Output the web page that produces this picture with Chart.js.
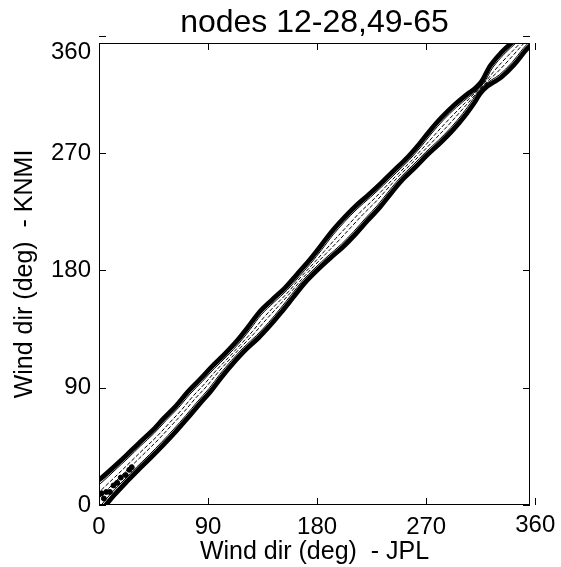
<!DOCTYPE html>
<html>
<head>
<meta charset="utf-8">
<script src="https://cdn.jsdelivr.net/npm/chart.js@4.4.1/dist/chart.umd.min.js"></script>
<style>
  html, body { margin: 0; padding: 0; background: #fff; }
  #wrap { width: 561px; height: 567px; }
</style>
</head>
<body>
<div id="wrap"><canvas id="chart" width="561" height="567"></canvas></div>
<script>
const titleText = "nodes 12-28,49-65";
const xLabel = "Wind dir (deg)  - JPL";
const yLabel = "Wind dir (deg)  - KNMI";
const tickValues = [0, 90, 180, 270, 360];
const xMax = 355.7;
const yMax = 354.3;

// position along the diagonal (deg) and KNMI-JPL offset of the band centre
const alongDeg = [-10, 0, 10, 20, 30, 40, 50, 60, 70, 80, 90, 100, 110, 120, 130, 140, 150, 160, 170, 180,
  190, 200, 210, 220, 230, 240, 250, 260, 270, 280, 290, 300, 310, 315, 320, 325, 330, 340, 350, 365];
const knmiMinusJpl = [9, 8, 7, 6, 5, 4, 3, 3, 3, 4, 4, 5, 5, 5, 5, 6, 6, 6, 7, 7,
  7, 7, 7, 7, 6, 6, 6, 5, 5, 5, 5, 5, 5, 5, 5, 5, 5, 5, 5, 5];

// half widths of the contour levels (deg, across the diagonal)
const outerHalfWidth = [17, 15, 13, 12, 11.5, 11.5, 11, 11, 10.5, 10.5, 10, 9, 8, 8, 9.5, 10.5, 9.5, 8, 7.5, 8,
  9.5, 11.5, 12, 11.5, 10.5, 9, 8, 8, 8.5, 10, 10.5, 9.5, 7, 5, 5, 7.5, 10, 11, 9.5, 8.5];
const edgeHalfWidth = [15, 13, 11, 10, 9.5, 9.5, 9, 9, 8.5, 8.5, 8, 7, 6, 6, 7.5, 8.5, 7.5, 6, 5.5, 6,
  7.5, 9.5, 10, 9.5, 8.5, 7, 6, 6, 6.5, 8, 8.5, 7.5, 5, 3, 3, 5.5, 8, 9, 7.5, 6.5];
const innerHalfWidth = [12, 10, 8, 7.5, 7, 7, 6.5, 6.5, 6, 6, 5.5, 4.5, 3.5, 3.5, 5, 6, 5, 3.5, 3, 3.5,
  5, 7, 7.5, 7, 6, 4.5, 3.5, 3.5, 4, 5.5, 6, 5, 2.5, 1, 1, 3, 5.5, 6.5, 5, 4];
const coreHalfWidth = [3, 2.5, 2.2, 2, 2, 2, 1.8, 1.8, 1.8, 1.8, 1.8, 1.5, 1.2, 1.2, 1.5, 1.8, 1.6, 1.2, 1.2, 1.2,
  1.6, 2, 2, 2, 1.8, 1.5, 1.2, 1.2, 1.4, 1.8, 2, 1.6, 1, 0.6, 0.6, 1, 1.8, 2, 1.6, 1.4];

// dense peaks near the origin
const blobJpl = [2, 4, 6, 9, 12, 15, 18, 22, 25, 27];
const blobKnmi = [9, 5, 10, 10, 15, 17, 21, 23, 27, 29];

function edge(widths, sign) {
  return alongDeg.map((u, i) => {
    const v = knmiMinusJpl[i] + sign * widths[i];
    return { x: u - v / 2, y: u + v / 2 };
  });
}

function ring(widths) {
  const upper = edge(widths, 1);
  const lower = edge(widths, -1).reverse();
  return upper.concat(lower, [upper[0]]);
}

function contour(data, width, dash) {
  return {
    data: data,
    showLine: true,
    borderColor: "#000",
    borderWidth: width,
    borderDash: dash || [],
    pointRadius: 0,
    tension: 0.35,
    fill: false,
    clip: 0,
  };
}

const fontFamily = "'Liberation Sans', Arial, Helvetica, sans-serif";

// box, inward ticks, title and the 360 labels that sit outside the box
const framePlugin = {
  id: "frame",
  afterDraw(chart) {
    const ctx = chart.ctx;
    const { left, right, top, bottom } = chart.chartArea;
    const xs = chart.scales.x;
    const ys = chart.scales.y;
    ctx.save();
    ctx.strokeStyle = "#000";
    ctx.lineWidth = 1;
    ctx.strokeRect(left + 0.5, top + 0.5, right - left - 1, bottom - top - 1);
    ctx.beginPath();
    tickValues.forEach((v) => {
      const px = Math.round(xs.getPixelForValue(v)) + 0.5;
      ctx.moveTo(px, bottom);
      ctx.lineTo(px, bottom - 7);
      ctx.moveTo(px, top);
      ctx.lineTo(px, top + 7);
      const py = Math.round(ys.getPixelForValue(v)) + 0.5;
      ctx.moveTo(left, py);
      ctx.lineTo(left + 7, py);
      ctx.moveTo(right, py);
      ctx.lineTo(right - 7, py);
    });
    ctx.stroke();
    ctx.fillStyle = "#000";
    ctx.font = "24px " + fontFamily;
    ctx.textAlign = "center";
    ctx.textBaseline = "middle";
    ctx.fillText("360", xs.getPixelForValue(360), 525);
    ctx.textAlign = "right";
    ctx.fillText("360", left - 8, 52);
    ctx.textAlign = "center";
    ctx.font = "32px " + fontFamily;
    ctx.fillText(titleText, (left + right) / 2, 23);
    ctx.restore();
  },
};

const ctx = document.getElementById("chart").getContext("2d");

new Chart(ctx, {
  type: "scatter",
  data: {
    datasets: [
      contour(ring(outerHalfWidth), 3),
      contour(ring(edgeHalfWidth), 3),
      contour(ring(innerHalfWidth), 1),
      contour(edge(coreHalfWidth, 1), 1, [4, 2]),
      contour(edge(coreHalfWidth, -1), 1, [4, 2]),
      {
        data: blobJpl.map((x, i) => ({ x: x, y: blobKnmi[i] })),
        pointRadius: 2.5,
        pointBackgroundColor: "#000",
        pointBorderColor: "#000",
        showLine: false,
        clip: 0,
      },
    ],
  },
  options: {
    responsive: false,
    animation: false,
    layout: { padding: { left: 0, right: 31, top: 43, bottom: 0 } },
    plugins: {
      legend: { display: false },
      tooltip: { enabled: false },
      title: { display: false },
    },
    scales: {
      x: {
        type: "linear",
        min: 0,
        max: xMax,
        afterBuildTicks: (scale) => {
          scale.ticks = tickValues.filter((v) => v <= xMax).map((v) => ({ value: v }));
        },
        afterFit: (scale) => {
          scale.height = 62;
        },
        grid: { display: false, drawTicks: false },
        border: { display: false },
        ticks: {
          color: "#000",
          padding: 8,
          maxRotation: 0,
          font: { family: fontFamily, size: 24 },
        },
        title: {
          display: true,
          text: xLabel,
          color: "#000",
          font: { family: fontFamily, size: 25, lineHeight: 1.2 },
          padding: { top: 0, bottom: 0 },
        },
      },
      y: {
        type: "linear",
        min: 0,
        max: yMax,
        afterBuildTicks: (scale) => {
          scale.ticks = tickValues.filter((v) => v <= yMax).map((v) => ({ value: v }));
        },
        afterFit: (scale) => {
          scale.width = 99;
        },
        grid: { display: false, drawTicks: false },
        border: { display: false },
        ticks: {
          color: "#000",
          padding: 8,
          font: { family: fontFamily, size: 24 },
        },
        title: {
          display: true,
          text: yLabel,
          color: "#000",
          font: { family: fontFamily, size: 25, lineHeight: 1.2 },
          padding: { top: 10, bottom: 0 },
        },
      },
    },
  },
  plugins: [framePlugin],
});
</script>
</body>
</html>
